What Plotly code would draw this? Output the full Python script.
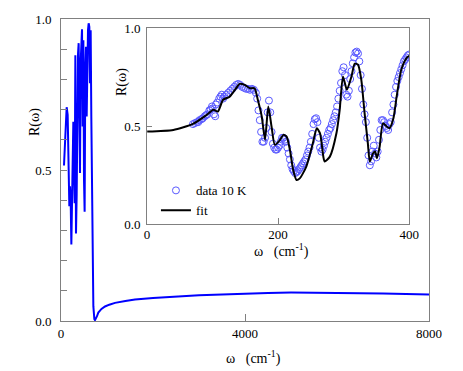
import plotly.graph_objects as go

# Main panel: reflectivity over the full range
w_full = [65, 87, 101, 123, 145, 159, 174, 181, 196, 210, 225, 239, 254, 268, 283,
          297, 312, 326, 341, 355, 370, 384, 399, 413, 428, 442, 457, 471, 486, 500,
          514, 529, 543, 558, 572, 587, 601, 616, 630, 645, 659, 674, 688, 703, 725,
          739, 780, 811, 880, 957, 1050, 1174, 1400, 1609, 2000, 2500, 3000, 3500,
          4000, 4500, 5000, 5500, 6000, 6500, 7000, 7500, 8000]
r_full = [0.515, 0.60, 0.653, 0.708, 0.683, 0.595, 0.49, 0.38, 0.446, 0.402, 0.253,
          0.402, 0.523, 0.66, 0.512, 0.39, 0.88, 0.29, 0.42, 0.73, 0.886, 0.92, 0.62,
          0.49, 0.859, 0.936, 0.966, 0.644, 0.93, 0.468, 0.362, 0.842, 0.908, 0.677,
          0.842, 0.963, 0.986, 0.974, 0.787, 0.963, 0.677, 0.42, 0.19, 0.049, 0.006,
          0.003, 0.015, 0.028, 0.04, 0.048, 0.054, 0.06, 0.066, 0.071, 0.076, 0.081,
          0.085, 0.088, 0.091, 0.093, 0.094, 0.094, 0.093, 0.092, 0.091, 0.089, 0.088]

# Inset: measured data at 10 K
w_data = [70, 73, 76, 78, 80, 83, 85, 88, 90, 92, 95, 97, 99, 100, 102, 104, 105, 107,
          110, 112, 114, 116, 118, 121, 124, 127, 130, 133, 136, 139, 142, 145, 148,
          151, 154, 157, 160, 163, 166, 168, 170, 172, 174, 176, 178, 180, 182, 184,
          186, 188, 190, 192, 194, 196, 198, 200, 202, 204, 206, 208, 210, 212, 214,
          216, 218, 220, 222, 224, 226, 228, 230, 232, 234, 236, 238, 240, 242, 244,
          246, 248, 250, 252, 254, 256, 258, 260, 262, 264, 266, 268, 270, 272, 274,
          276, 278, 280, 282, 284, 286, 288, 290, 292, 294, 296, 298, 300, 302, 304,
          306, 308, 310, 312, 314, 316, 318, 320, 322, 324, 326, 328, 330, 332, 334,
          336, 338, 340, 342, 344, 346, 348, 350, 352, 354, 356, 358, 360, 362, 364,
          366, 368, 370, 372, 374, 376, 378, 380, 382, 384, 386, 388, 390, 392, 394,
          396, 398, 400]
r_data = [0.51, 0.515, 0.52, 0.52, 0.53, 0.535, 0.54, 0.55, 0.555, 0.56, 0.58, 0.585,
          0.60, 0.59, 0.56, 0.55, 0.61, 0.62, 0.64, 0.65, 0.66, 0.64, 0.65, 0.66, 0.67,
          0.68, 0.69, 0.70, 0.71, 0.715, 0.71, 0.70, 0.695, 0.69, 0.69, 0.685, 0.69,
          0.685, 0.67, 0.64, 0.58, 0.53, 0.47, 0.42, 0.42, 0.44, 0.49, 0.57, 0.63, 0.57,
          0.47, 0.41, 0.39, 0.38, 0.38, 0.39, 0.40, 0.42, 0.44, 0.44, 0.43, 0.42, 0.39,
          0.36, 0.33, 0.30, 0.28, 0.27, 0.26, 0.265, 0.27, 0.28, 0.29, 0.30, 0.31, 0.32,
          0.33, 0.35, 0.37, 0.39, 0.42, 0.46, 0.51, 0.535, 0.54, 0.52, 0.44, 0.39, 0.37,
          0.38, 0.40, 0.42, 0.44, 0.46, 0.48, 0.49, 0.51, 0.53, 0.55, 0.57, 0.60, 0.64,
          0.68, 0.72, 0.78, 0.80, 0.76, 0.66, 0.65, 0.68, 0.74, 0.78, 0.82, 0.85, 0.875,
          0.88, 0.87, 0.83, 0.76, 0.69, 0.61, 0.56, 0.52, 0.44, 0.35, 0.30, 0.32, 0.37,
          0.40, 0.36, 0.34, 0.37, 0.43, 0.48, 0.53, 0.53, 0.52, 0.50, 0.49, 0.48, 0.51,
          0.52, 0.57, 0.61, 0.66, 0.70, 0.73, 0.75, 0.77, 0.79, 0.81, 0.83, 0.84, 0.85,
          0.86, 0.865]

# Inset: model fit
w_fit = [0, 40, 70, 91, 101, 108, 116, 126, 136, 141, 149, 157, 164, 169, 175, 180,
         185, 190, 195, 203, 208, 213, 218, 223, 228, 233, 243, 253, 259, 264, 269,
         271, 279, 289, 294, 299, 305, 312, 317, 322, 327, 332, 337, 340, 345, 348,
         351, 355, 360, 366, 370, 376, 381, 388, 396, 400]
r_fit = [0.472, 0.480, 0.511, 0.557, 0.583, 0.574, 0.634, 0.65, 0.693, 0.715, 0.71,
         0.693, 0.693, 0.634, 0.549, 0.43, 0.60, 0.497, 0.404, 0.43, 0.455, 0.446,
         0.378, 0.276, 0.225, 0.233, 0.293, 0.412, 0.489, 0.463, 0.344, 0.319, 0.344,
         0.463, 0.583, 0.753, 0.685, 0.753, 0.818, 0.813, 0.736, 0.566, 0.412, 0.319,
         0.361, 0.37, 0.336, 0.395, 0.514, 0.497, 0.489, 0.54, 0.651, 0.787, 0.847,
         0.859]

FONT = "Liberation Serif"
GRAY = "#808080"
NB = "\u00a0"

fig = go.Figure()

fig.add_trace(go.Scatter(x=w_full, y=r_full, mode="lines",
                         line=dict(color="#0000ff", width=2),
                         showlegend=False, xaxis="x", yaxis="y"))

fig.add_trace(go.Scatter(x=w_data, y=r_data, mode="markers", name="data 10 K",
                         marker=dict(symbol="circle-open", size=7,
                                     color="rgb(90,90,255)", line=dict(width=1)),
                         xaxis="x2", yaxis="y2"))

fig.add_trace(go.Scatter(x=w_fit, y=r_fit, mode="lines", name="fit",
                         line=dict(color="black", width=2, shape="spline", smoothing=0.6),
                         xaxis="x2", yaxis="y2"))

axis_common = dict(showline=True, mirror=True, linecolor=GRAY, linewidth=1,
                   showgrid=False, zeroline=False, ticks="inside", tickcolor=GRAY,
                   automargin=False,
                   tickfont=dict(family=FONT, size=13, color="black"))


def label(text, px, py, angle=0):
    # place a text at a pixel spot of the page (plot area: x 61..429, y 19..321)
    return dict(text=text, textangle=angle, xref="paper", yref="paper",
                x=(px - 61) / 368, y=(321 - py) / 302, xanchor="center",
                yanchor="middle", showarrow=False, font=dict(family=FONT, size=14))


# page body has an 8px margin, so the figure is a bit smaller and shifted
fig.update_layout(
    width=455, height=363,
    margin=dict(l=53, r=34, t=11, b=50),
    paper_bgcolor="white", plot_bgcolor="white",
    font=dict(family=FONT, size=13, color="black"),
    xaxis=dict(domain=[0, 1], range=[0, 8000], tickvals=[0, 4000, 8000],
               ticklen=7, ticklabelstandoff=0, **axis_common),
    yaxis=dict(domain=[0, 1], range=[0, 1], tickvals=[0, 0.5, 1],
               ticktext=["0.0", "0.5", "1.0"], ticklen=6, ticklabelstandoff=6,
               minor=dict(dtick=0.1, ticks="inside", ticklen=6, tickcolor=GRAY),
               **axis_common),
    xaxis2=dict(domain=[0.234, 0.946], range=[0, 400], tickvals=[0, 200, 400],
                anchor="y2", ticklen=6, ticklabelstandoff=-2, **axis_common),
    yaxis2=dict(domain=[0.321, 0.970], range=[0, 1], tickvals=[0, 0.5, 1],
                ticktext=["0.0", "0.5", "1.0"], anchor="x2", ticklen=5,
                ticklabelstandoff=3, **axis_common),
    legend=dict(x=0.258, y=0.482, xanchor="left", yanchor="top",
                bgcolor="rgba(0,0,0,0)", font=dict(family=FONT, size=13),
                tracegroupgap=0, itemwidth=30),
    annotations=[
        label("R(ω)", 35, 122, -90),
        label("R(ω)", 122, 82, -90),
        label("ω" + NB * 3 + "(cm<sup>-1</sup>)", 253, 357),
        label("ω" + NB * 3 + "(cm<sup>-1</sup>)", 281, 250),
    ],
)

fig.write_html("out.html")
